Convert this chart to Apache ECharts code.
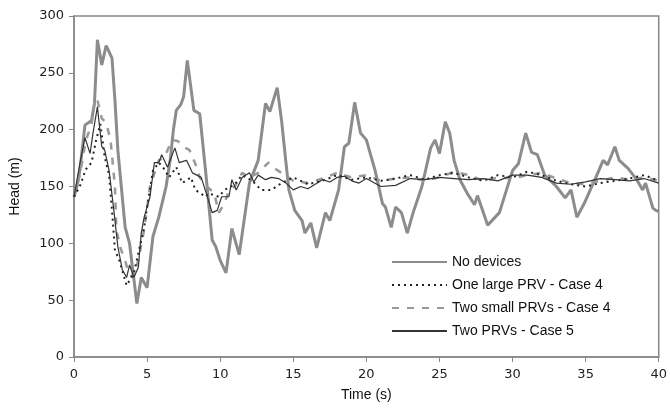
<!DOCTYPE html>
<html>
<head>
<meta charset="utf-8">
<script src="https://cdn.jsdelivr.net/npm/echarts@6/dist/echarts.min.js"></script>
<style>
  html, body { margin: 0; padding: 0; background: #fff; }
  #c { width: 670px; height: 412px; }
</style>
</head>
<body>
<div id="c"></div>
<script>
(() => {
  "use strict";
  // No devices
  const ndT = [0,0.2,0.4,0.75,1.2,1.4,1.6,1.9,2.2,2.6,2.8,3.0,3.5,3.8,4.3,4.6,5.0,5.4,5.8,6.3,6.6,6.8,7.0,7.3,7.5,7.75,8.2,8.6,9.0,9.45,9.7,10.0,10.4,10.8,11.3,12.0,12.6,13.1,13.4,13.9,14.2,14.5,14.7,15.1,15.6,15.8,16.2,16.6,17.2,17.5,18.1,18.5,18.8,19.2,19.6,20.0,20.6,21.1,21.3,21.7,22.0,22.4,22.8,23.2,23.8,24.4,24.7,25.0,25.4,25.7,26.0,26.4,26.9,27.4,27.6,28.3,29.1,30.0,30.4,30.9,31.3,31.7,32.2,33.0,33.6,34.0,34.4,34.9,35.7,36.2,36.5,37.0,37.3,37.9,38.5,38.9,39.1,39.6,39.8,40];
  const ndV = [141,150,164,204,208,223,279,257,274,263,226,182,114,100,47,70,61,106,123,150,175,200,217,222,229,261,217,214,164,103,97,85,74,113,90,153,173,223,216,237,208,171,147,129,120,109,118,96,127,120,147,185,188,224,197,191,164,135,132,114,132,127,109,127,150,184,191,179,207,197,173,156,144,134,142,116,127,164,170,197,180,178,160,150,140,147,123,135,158,173,169,185,173,166,156,147,153,131,129,128];
  // One large PRV - Case 4
  const lgT = [0,0.4,0.8,1.2,1.5,1.8,2.1,2.4,2.6,2.8,3.1,3.6,4.1,4.5,4.8,5.0,5.4,5.8,6.2,6.5,7.0,7.4,8.0,8.3,9.0,9.2,9.9,10.3,11.0,11.5,12.2,12.8,13.5,14.2,15,16,17,18,19,20,21,22,23,24,25,26,27,28,29,30,31,32,33,34,35,36,37,38,39,40];
  const lgV = [141,150,165,171,190,205,176,160,129,94,85,63,74,97,114,132,164,171,165,158,167,153,158,147,141,144,141,147,152,160,155,147,147,153,158,152,155,160,156,158,155,157,160,156,160,162,158,155,160,158,163,160,155,152,150,153,155,157,160,155];
  // Two small PRVs - Case 4
  const smT = [0,0.4,0.8,1.2,1.45,1.6,1.9,2.2,2.5,2.8,2.9,3.2,3.5,3.7,4.0,4.4,4.8,5.2,5.8,6.2,6.7,7.1,7.5,7.9,8.3,8.6,9.1,9.6,9.9,10.3,10.6,11.0,11.5,12.0,12.6,13.3,13.7,14.2,15,16,17,18,19,20,21,22,23,24,25,26,27,28,29,30,31,32,33,34,35,36,37,38,39,40];
  const smV = [141,160,190,205,228,226,210,206,191,150,112,95,85,75,70,85,112,150,173,176,191,190,185,182,170,158,150,144,127,135,147,150,162,158,162,171,166,162,155,153,157,162,158,160,155,157,158,155,158,163,160,155,158,157,160,162,157,153,152,155,158,156,158,155];
  // Two PRVs - Case 5
  const c5T = [0,0.4,0.75,1.1,1.3,1.6,1.9,2.1,2.4,2.7,3.0,3.3,3.6,3.8,4.1,4.4,4.6,4.8,5.2,5.5,5.8,6.0,6.4,6.9,7.2,7.7,8.1,8.7,9.1,9.45,9.8,10.1,10.6,10.8,11.1,11.5,12.0,12.3,12.6,13.1,13.5,14.0,14.5,15.0,15.5,16.0,16.5,17.0,17.5,18.0,18.5,19.0,19.5,20.0,21,22,23,24,25,26,27,28,29,30,31,32,33,34,35,36,37,38,39,40];
  const c5V = [141,170,193,179,197,220,185,182,164,132,97,77,70,81,70,79,109,123,141,171,171,178,167,184,171,173,162,158,142,127,129,141,141,156,147,158,162,154,160,156,158,157,153,147,150,148,152,156,154,158,159,155,153,157,150,151,157,156,158,157,156,157,155,160,160,158,153,152,154,157,156,155,157,153];

  const names = ["No devices", "One large PRV - Case 4", "Two small PRVs - Case 4", "Two PRVs - Case 5"];
  const zip = (t, v) => t.map((x, i) => [x, v[i]]);
  const tickFont = { fontFamily: "DejaVu Sans", fontSize: 13, color: "#222" };
  const nameFont = { fontFamily: "Liberation Sans", fontSize: 14, color: "#111" };
  const axLine = { show: true, lineStyle: { color: "#888", width: 1.5 } };

  const chart = echarts.init(document.getElementById("c"), null, { renderer: "canvas" });
  chart.setOption({
    animation: false,
    grid: { left: 74, right: 7, top: 16, bottom: 55, show: true, borderColor: "#888", borderWidth: 1.5 },
    legend: {
      orient: "vertical", left: 386, top: 250, itemWidth: 55, itemHeight: 12, itemGap: 9,
      itemStyle: { color: "rgba(0,0,0,0)", opacity: 0, borderWidth: 0 },
      textStyle: { fontFamily: "Liberation Sans", fontSize: 14, color: "#111" },
      data: names,
    },
    xAxis: {
      type: "value", min: 0, max: 40, interval: 5,
      name: "Time (s)", nameLocation: "middle", nameGap: 31, nameTextStyle: nameFont,
      axisLine: axLine, axisTick: { show: true, length: 5, lineStyle: { color: "#888" } },
      axisLabel: Object.assign({ margin: 11 }, tickFont), splitLine: { show: false },
    },
    yAxis: {
      type: "value", min: 0, max: 300, interval: 50,
      name: "Head (m)", nameLocation: "middle", nameGap: 52, nameRotate: 90, nameTextStyle: nameFont,
      axisLine: axLine, axisTick: { show: true, length: 5, lineStyle: { color: "#888" } },
      axisLabel: Object.assign({ margin: 10 }, tickFont), splitLine: { show: false },
    },
    series: [
      { name: names[0], type: "line", data: zip(ndT, ndV), symbol: "none", lineStyle: { color: "#8c8c8c", width: 3 }, itemStyle: { color: "#8c8c8c" }, z: 2 },
      { name: names[1], type: "line", data: zip(lgT, lgV), symbol: "none", lineStyle: { color: "#222", width: 2, type: [2, 4] }, itemStyle: { color: "#222" }, z: 4 },
      { name: names[2], type: "line", data: zip(smT, smV), symbol: "none", lineStyle: { color: "#999", width: 2.5, type: [7, 8] }, itemStyle: { color: "#999" }, z: 3 },
      { name: names[3], type: "line", data: zip(c5T, c5V), symbol: "none", lineStyle: { color: "#333", width: 1.2 }, itemStyle: { color: "#333" }, z: 5 },
    ],
  });
})();
</script>
</body>
</html>
